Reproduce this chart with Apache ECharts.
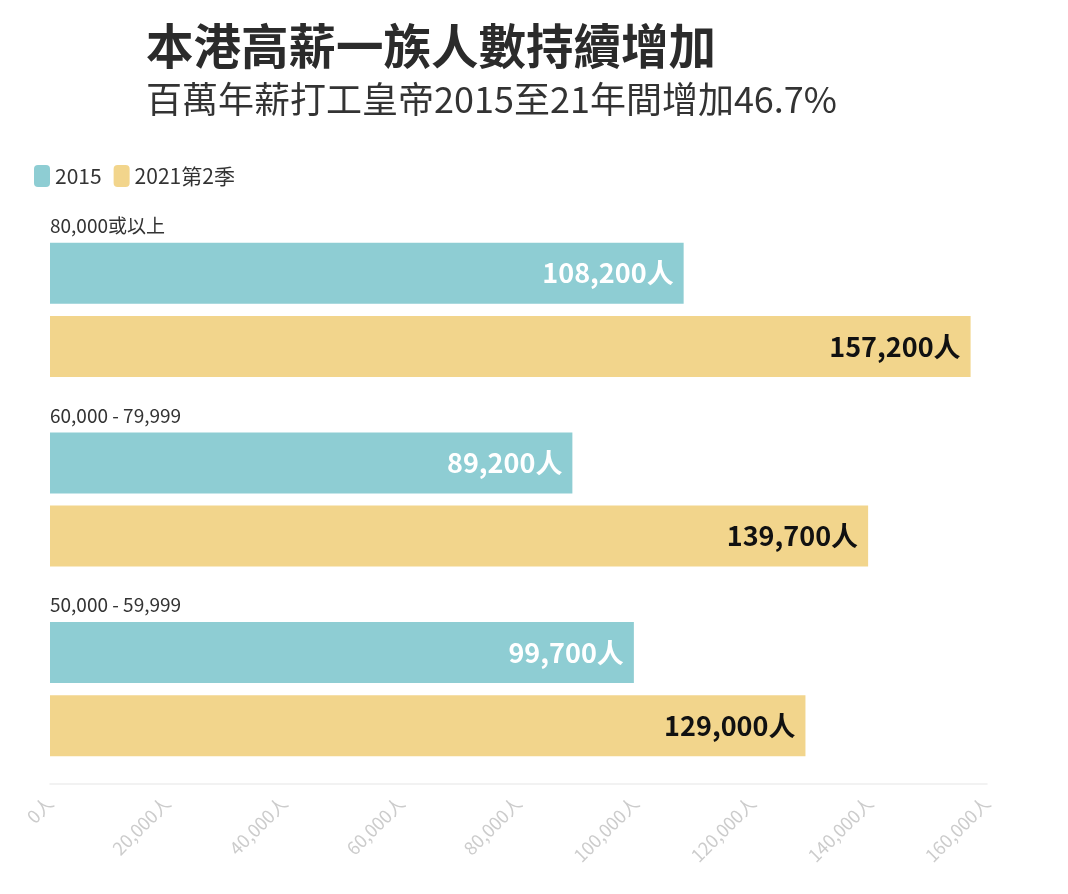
<!DOCTYPE html>
<html><head><meta charset="utf-8">
<script src="https://cdn.jsdelivr.net/npm/echarts@6/dist/echarts.min.js"></script>
<style>html,body{margin:0;padding:0;background:#fff}#c{width:1068px;height:894px}</style>
</head><body><div id="c"></div>
<script>
const categories = ['80,000或以上', '60,000 - 79,999', '50,000 - 59,999'];
const seriesNames = ['2015', '2021第2季'];
const values2015 = [108200, 89200, 99700];
const values2021 = [157200, 139700, 129000];
const xTicks = [0, 20000, 40000, 60000, 80000, 100000, 120000, 140000, 160000];
const titleText = '本港高薪一族人數持續增加';
const subtitleText = '百萬年薪打工皇帝2015至21年間增加46.7%';

const FONT = '"Noto Sans CJK TC", "Noto Sans", sans-serif';
const fmt = v => v.toLocaleString('en-US') + '人';
const chart = echarts.init(document.getElementById('c'));
chart.setOption({
  backgroundColor: '#fff',
  textStyle: { fontFamily: FONT },
  title: {
    text: titleText, subtext: subtitleText, left: 141, top: 17, itemGap: 12,
    textStyle: { fontFamily: FONT, fontSize: 47.5, fontWeight: 'bold', color: '#2b2b2b' },
    subtextStyle: { fontFamily: FONT, fontSize: 36, color: '#333' }
  },
  legend: {
    left: 29, top: 160, itemWidth: 16, itemHeight: 22, itemGap: 12,
    icon: 'roundRect', data: seriesNames,
    textStyle: { fontFamily: FONT, fontSize: 21, color: '#333' }
  },
  grid: { left: 50, right: 81, top: 215, bottom: 110, containLabel: false },
  xAxis: {
    type: 'value', min: xTicks[0], max: xTicks[xTicks.length - 1], interval: xTicks[1] - xTicks[0],
    axisLine: { show: true, lineStyle: { color: '#eeeeee', width: 1.5 } },
    axisTick: { show: false }, splitLine: { show: false },
    axisLabel: { rotate: 45, margin: 16, color: '#cccccc', fontSize: 18, fontFamily: FONT, formatter: fmt }
  },
  yAxis: {
    type: 'category', inverse: true, data: categories,
    axisLine: { show: false }, axisTick: { show: false },
    axisLabel: {
      inside: true, margin: 0, align: 'left', verticalAlign: 'middle',
      formatter: v => '{a|' + v + '}\n{b|}',
      rich: {
        a: { fontSize: 19, lineHeight: 20, color: '#333', fontFamily: FONT },
        b: { height: 168, lineHeight: 168 }
      }
    }
  },
  series: [
    { name: seriesNames[0], type: 'bar', data: values2015, barWidth: 61, barGap: '20%',
      itemStyle: { color: '#8ecdd3' },
      label: { show: true, position: 'insideRight', distance: 10, formatter: p => fmt(p.value), color: '#fff', fontSize: 27, fontWeight: 'bold', fontFamily: FONT } },
    { name: seriesNames[1], type: 'bar', data: values2021, barWidth: 61,
      itemStyle: { color: '#f2d58c' },
      label: { show: true, position: 'insideRight', distance: 10, formatter: p => fmt(p.value), color: '#111', fontSize: 27, fontWeight: 'bold', fontFamily: FONT } }
  ]
});
</script></body></html>
